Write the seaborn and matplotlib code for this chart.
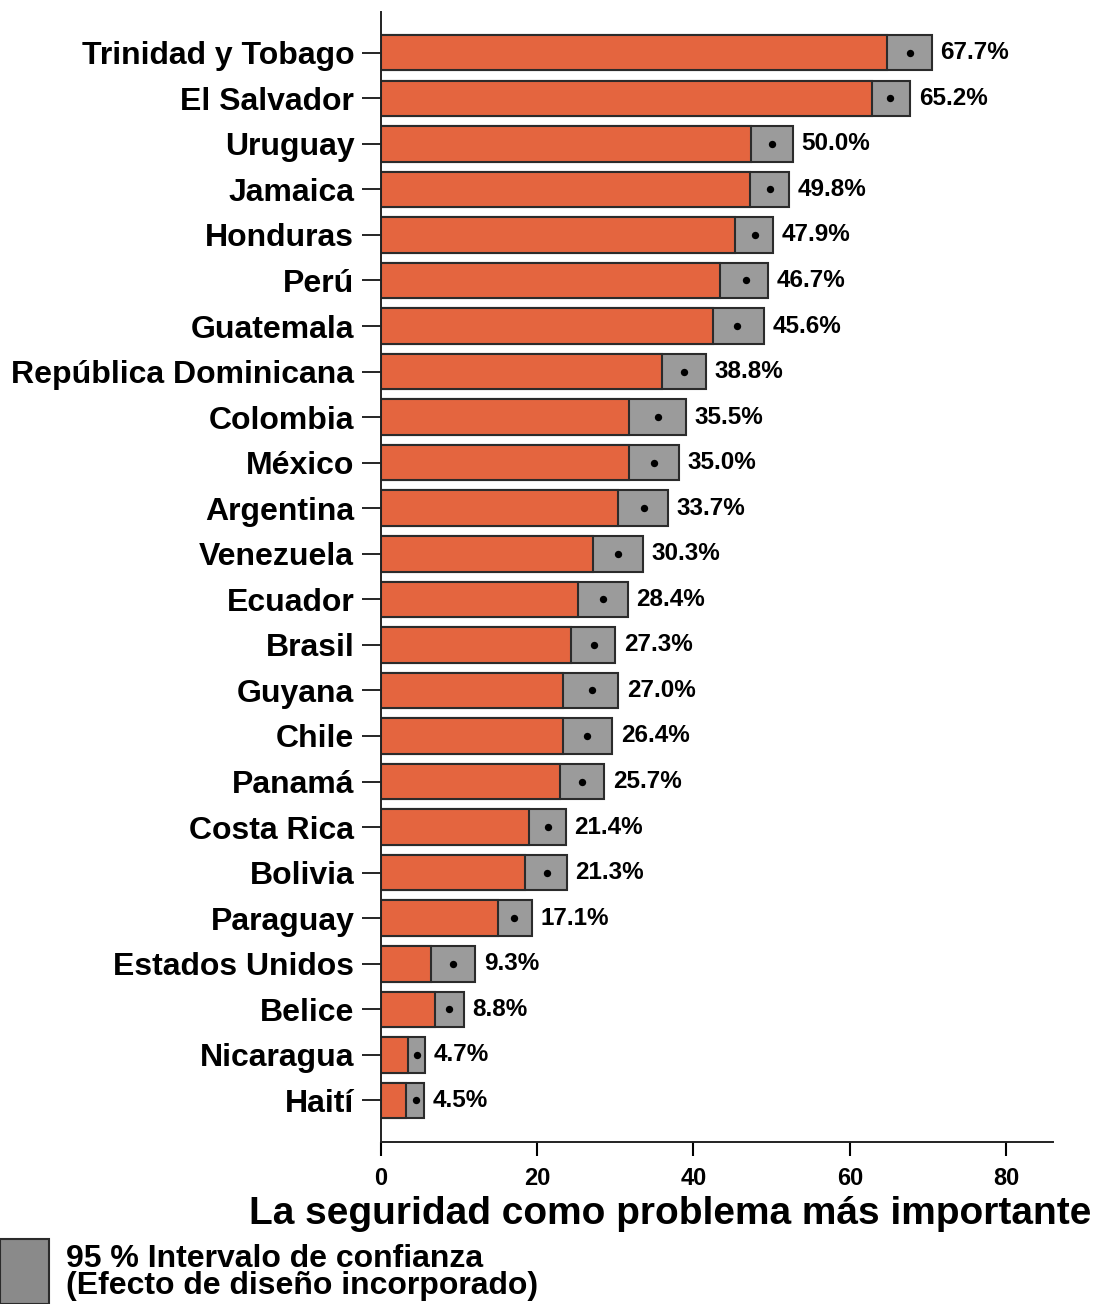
import numpy as np
import pandas as pd
import seaborn as sns
import matplotlib.pyplot as plt
from matplotlib.patches import Rectangle

paises = ["Trinidad y Tobago", "El Salvador", "Uruguay", "Jamaica", "Honduras",
          "Perú", "Guatemala", "República Dominicana", "Colombia", "México",
          "Argentina", "Venezuela", "Ecuador", "Brasil", "Guyana", "Chile",
          "Panamá", "Costa Rica", "Bolivia", "Paraguay", "Estados Unidos",
          "Belice", "Nicaragua", "Haití"]
media = [67.7, 65.2, 50.0, 49.8, 47.9, 46.7, 45.6, 38.8, 35.5, 35.0, 33.7, 30.3,
         28.4, 27.3, 27.0, 26.4, 25.7, 21.4, 21.3, 17.1, 9.3, 8.8, 4.7, 4.5]
inferior = [64.7, 62.8, 47.3, 47.2, 45.3, 43.4, 42.5, 36.0, 31.8, 31.8, 30.4, 27.1,
            25.2, 24.3, 23.3, 23.3, 22.9, 19.0, 18.4, 15.0, 6.5, 6.9, 3.5, 3.2]
superior = [70.5, 67.7, 52.7, 52.2, 50.2, 49.6, 49.0, 41.6, 39.0, 38.2, 36.7, 33.5,
            31.6, 30.0, 30.4, 29.6, 28.6, 23.7, 23.8, 19.3, 12.1, 10.6, 5.7, 5.5]

df = pd.DataFrame({"pais": paises, "media": media,
                   "inferior": inferior, "superior": superior})

sns.set_style("white")
plt.rcParams["font.family"] = ["Liberation Sans", "DejaVu Sans"]
plt.rcParams["font.weight"] = "bold"
plt.rcParams["text.color"] = "black"
plt.rcParams["xtick.color"] = "black"
plt.rcParams["ytick.color"] = "black"

naranja = "#E4653F"
gris = "#9B9B9B"
borde = "#2b2b2b"

fig = plt.figure(figsize=(10.97, 13.04), dpi=100)
ax = fig.add_axes([0.347, 0.124, 0.613, 0.867])

# gris: intervalo completo hasta el limite superior, naranja tapa hasta el inferior
sns.barplot(data=df, x="superior", y="pais", orient="h", color=gris,
            edgecolor=borde, linewidth=1.5, width=0.78, saturation=1, ax=ax)
sns.barplot(data=df, x="inferior", y="pais", orient="h", color=naranja,
            edgecolor=borde, linewidth=1.5, width=0.78, saturation=1, ax=ax)
sns.scatterplot(data=df, x="media", y="pais", color="black", s=28,
                marker="o", linewidth=0, ax=ax, zorder=5)

for i, fila in df.iterrows():
    ax.text(fila["superior"] + 1.1, i, f"{fila['media']:.1f}%", va="center",
            ha="left", fontsize=17.5, fontweight="bold")

ax.set_xlim(0, 86)
ax.set_ylim(len(paises) - 0.08, -0.9)
ax.set_xticks([0, 20, 40, 60, 80])
ax.set_ylabel("")
ax.set_xlabel("")
ax.tick_params(axis="y", length=14, width=1.2, pad=5, labelsize=23, left=True)
ax.tick_params(axis="x", length=10, width=1.5, pad=8, labelsize=17, bottom=True)
for lab in ax.get_yticklabels() + ax.get_xticklabels():
    lab.set_fontweight("bold")

sns.despine(ax=ax)
for s in ["left", "bottom"]:
    ax.spines[s].set_color("#222222")
    ax.spines[s].set_linewidth(1.4)

fig.text(0.995, 0.069, "La seguridad como problema más importante",
         ha="right", va="center", fontsize=28, fontweight="bold")

fig.patches.append(Rectangle((0.0, 0.0), 0.045, 0.05, transform=fig.transFigure,
                             facecolor="#8a8a8a", edgecolor=borde, linewidth=1.5))
fig.text(0.06, 0.024, "95 % Intervalo de confianza\n(Efecto de diseño incorporado)",
         ha="left", va="center", fontsize=23, fontweight="bold", linespacing=0.88)

fig.savefig("out.png", dpi=100)
